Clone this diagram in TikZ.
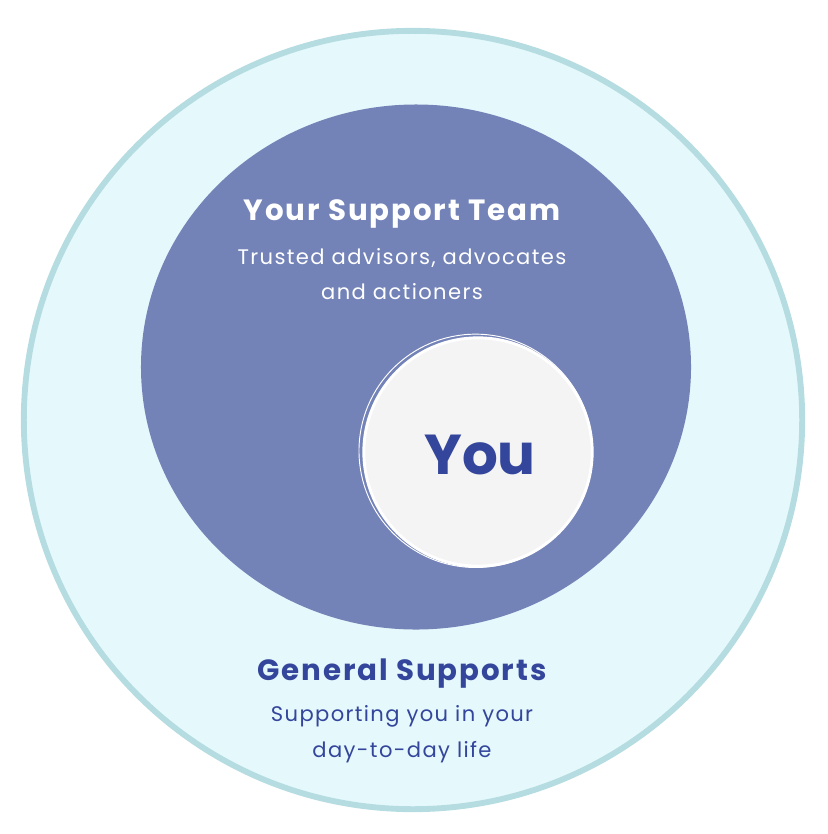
\documentclass[tikz,border=0pt]{standalone}
\usepackage{fontspec}
\setmainfont{Poppins}[LetterSpace=6.5]
\newfontfamily\youfont{Poppins}
\usetikzlibrary{shapes.geometric}

\definecolor{generalfill}{HTML}{E5F8FB}
\definecolor{generalline}{HTML}{B5DCE0}
\definecolor{teamfill}{HTML}{7383B8}
\definecolor{youfill}{HTML}{F4F4F4}
\definecolor{darkblue}{HTML}{34469C}

\begin{document}
\begin{tikzpicture}[x=0.03cm,y=-0.03cm,
  heading/.style={font=\fontsize{25}{30}\selectfont\bfseries},
  subtext/.style={font=\fontsize{18}{30.5}\selectfont,align=center}]

        \useasboundingbox (0,0) rectangle (827,834);

        % the three rings
        \node[circle,draw=generalline,fill=generalfill,line width=5pt,
              minimum size=23.35cm,inner sep=0] (general) at (413,420) {};
        \node[ellipse,fill=teamfill,minimum width=16.5cm,minimum height=15.75cm,
              inner sep=0] (team) at (416,367) {};
        \node[circle,draw=white,fill=youfill,line width=2.5pt,
              minimum size=6.85cm,inner sep=0] (you) at (478,452) {};
        \draw[white,line width=0.8pt] ([xshift=-2pt,yshift=1pt]you.center) circle (3.5cm);

        % texts
        \node[heading,text=white]    (teamtitle) at (402,214) {Your Support Team};
        \node[subtext,text=white]    (teamtext)  at (402,274) {Trusted advisors, advocates\\and actioners};
        \node[font=\youfont\fontsize{48}{60}\selectfont\bfseries,text=darkblue] (youtext) at (480,455) {You};
        \node[heading,text=darkblue] (gentitle)  at (402,674) {General Supports};
        \node[subtext,text=darkblue] (gentext)   at (402,734) {Supporting you in your\\day-to-day life};
      \end{tikzpicture}
\end{document}
